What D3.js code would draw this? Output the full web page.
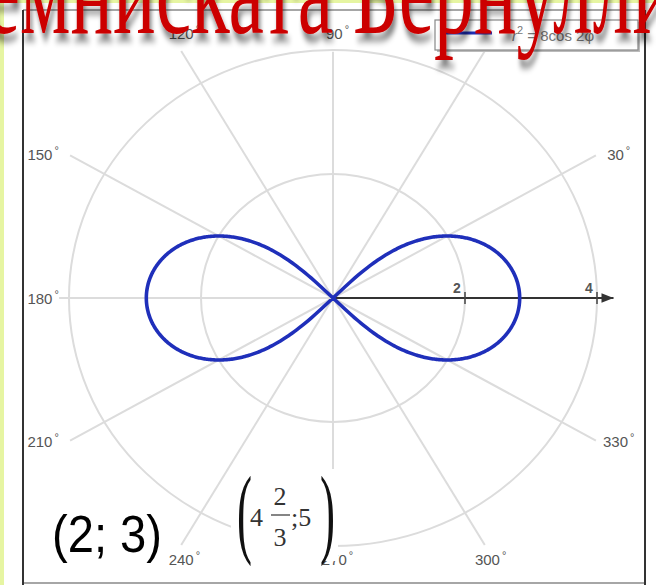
<!DOCTYPE html>
<html>
<head>
<meta charset="utf-8">
<script src="https://cdn.jsdelivr.net/npm/d3@7"></script>
<style>
  body { margin: 0; background: #fff; }
  svg { display: block; }
</style>
</head>
<body>
<svg id="chart" width="656" height="585"></svg>
<script>
// Lemniscate of Bernoulli in polar form: r^2 = coef * cos(2φ)
const coef = 8;
const ringValues = [2, 4];
const spokeAngles = [0, 30, 60, 90, 120, 150, 180, 210, 240, 270, 300, 330];
const angleLabelValues = [30, 60, 90, 120, 150, 180, 210, 240, 270, 300, 330];
const axisTickValues = [2, 4];
const axisTickLabels = ["2", "4"];
const axisEnd = 4.25;
const rightLobeAngles = d3.range(-45, 45.001, 0.25);
const leftLobeAngles = d3.range(135, 225.001, 0.25);

const svg = d3.select("#chart");
const W = 656, H = 585;

// page background with the slide edge
svg.append("rect").attr("width", W).attr("height", H).attr("fill", "#e6f5a2");
svg.append("rect").attr("x", 4).attr("y", 3).attr("width", W - 4).attr("height", H - 3).attr("fill", "#fff");

// frame
svg.append("line").attr("x1", 23).attr("x2", 645).attr("y1", 10).attr("y2", 10).attr("stroke", "#888").attr("stroke-width", 1.5);
svg.append("line").attr("x1", 23).attr("x2", 645).attr("y1", 583).attr("y2", 583).attr("stroke", "#888").attr("stroke-width", 1.5);
svg.append("line").attr("x1", 23).attr("x2", 23).attr("y1", 10).attr("y2", 585).attr("stroke", "#333").attr("stroke-width", 2);
svg.append("line").attr("x1", 645).attr("x2", 645).attr("y1", 10).attr("y2", 585).attr("stroke", "#333").attr("stroke-width", 2);

// scales (the plot is slightly wider than tall)
const x = d3.scaleLinear().domain([-4, 4]).range([69, 597]);
const y = d3.scaleLinear().domain([-4, 4]).range([546, 50]);
const rad = d => d * Math.PI / 180;

// angle label placement: side labels sit at a fixed horizontal distance,
// top/bottom labels sit on fixed rows
const sideX = 4.36, sideShift = -0.08, sideT = 4.62;
const rowT = 4.64, rowTop = 4.27, rowBottom = -4.22;
function labelPos(a) {
  const c = Math.cos(rad(a)), s = Math.sin(rad(a));
  if (Math.abs(c) > Math.abs(s)) {
    return [Math.sign(c) * sideX + sideShift, sideT * s];
  }
  return [rowT * c + 0.02, s > 0 ? rowTop : rowBottom];
}
const boxX = 4.45, boxTop = 4.27;
function spokeEnd(a) {
  const c = Math.abs(Math.cos(rad(a))), s = Math.abs(Math.sin(rad(a)));
  const tBox = Math.min(c > 1e-9 ? boxX / c : Infinity, s > 1e-9 ? boxTop / s : Infinity);
  return Math.min(4.6, tBox - 0.3);
}

const grid = svg.append("g").attr("stroke", "#dcdcdc").attr("stroke-width", 2).attr("fill", "none");

grid.selectAll("ellipse").data(ringValues).join("ellipse")
  .attr("cx", x(0)).attr("cy", y(0))
  .attr("rx", d => x(d) - x(0))
  .attr("ry", d => y(0) - y(d));

grid.selectAll("line").data(spokeAngles.filter(a => a !== 0)).join("line")
  .attr("x1", x(0)).attr("y1", y(0))
  .attr("x2", a => x(spokeEnd(a) * Math.cos(rad(a))))
  .attr("y2", a => y(spokeEnd(a) * Math.sin(rad(a))));

// angle labels: digits centred on the position, degree mark hanging to the right
const lab = svg.append("g")
  .attr("font-family", "Liberation Sans, Arial, sans-serif")
  .attr("fill", "#555");
lab.selectAll("g").data(angleLabelValues).join("g")
  .each(function (a) {
    const g = d3.select(this);
    const [lx, ly] = labelPos(a);
    const px = x(lx), py = y(ly);
    const num = g.append("text")
      .attr("x", px).attr("y", py + 5.5)
      .attr("text-anchor", "middle")
      .attr("font-size", 15)
      .text(a);
    const w = num.node().getComputedTextLength();
    g.append("text")
      .attr("x", px + w / 2 + 2).attr("y", py - 0.5)
      .attr("font-size", 11)
      .text("°");
  });

// polar axis along 0° with arrow
svg.append("defs").append("marker")
  .attr("id", "arrow").attr("viewBox", "0 0 10 10")
  .attr("refX", 10).attr("refY", 5)
  .attr("markerWidth", 8).attr("markerHeight", 6)
  .attr("markerUnits", "strokeWidth")
  .attr("orient", "auto")
  .append("path").attr("d", "M0,1 L10,5 L0,9 Z").attr("fill", "#333");

svg.append("line")
  .attr("x1", x(0)).attr("y1", y(0))
  .attr("x2", x(axisEnd)).attr("y2", y(0))
  .attr("stroke", "#333").attr("stroke-width", 2)
  .attr("marker-end", "url(#arrow)");

svg.selectAll(".tick").data(axisTickValues).join("line").attr("class", "tick")
  .attr("x1", d => x(d)).attr("x2", d => x(d))
  .attr("y1", y(0) - 6).attr("y2", y(0) + 6)
  .attr("stroke", "#444").attr("stroke-width", 1.5);

svg.selectAll(".ticklabel").data(axisTickValues).join("text").attr("class", "ticklabel")
  .attr("x", d => x(d) - 8).attr("y", y(0) - 5)
  .attr("text-anchor", "middle")
  .attr("font-family", "Liberation Sans, Arial, sans-serif")
  .attr("font-size", 14).attr("font-weight", "bold")
  .attr("fill", "#555")
  .text((d, i) => axisTickLabels[i]);

// the curve
const pts = rightLobeAngles.concat(leftLobeAngles).map(a => {
  const v = coef * Math.cos(2 * rad(a));
  const r = Math.sqrt(Math.max(0, v));
  return [r * Math.cos(rad(a)), r * Math.sin(rad(a))];
});
const line = d3.line().x(d => x(d[0])).y(d => y(d[1]));
svg.append("path")
  .attr("d", line(pts))
  .attr("fill", "none")
  .attr("stroke", "#1f2fba")
  .attr("stroke-width", 3.6)
  .attr("stroke-linejoin", "round");

// legend
const lg = svg.append("g");
lg.append("rect").attr("x", 437).attr("y", 22).attr("width", 203).attr("height", 30).attr("fill", "#bbb");
lg.append("rect").attr("x", 435).attr("y", 20).attr("width", 203).attr("height", 30).attr("fill", "#fff").attr("stroke", "#888").attr("stroke-width", 1.2);
lg.append("line").attr("x1", 440).attr("x2", 492).attr("y1", 33).attr("y2", 33).attr("stroke", "#1f2fba").attr("stroke-width", 3);
const lt = lg.append("text").attr("x", 512).attr("y", 41)
  .attr("font-family", "Liberation Sans, Arial, sans-serif")
  .attr("font-size", 15).attr("fill", "#777");
lt.append("tspan").attr("font-style", "italic").text("r");
lt.append("tspan").attr("dy", -7).attr("font-size", 11).text("2");
lt.append("tspan").attr("dy", 7).text(" = " + coef + "cos 2φ");

// coordinates written on the slide
svg.append("text").attr("x", 52).attr("y", 552)
  .attr("font-family", "Liberation Sans, Arial, sans-serif")
  .attr("font-size", 52)
  .attr("textLength", 110).attr("lengthAdjust", "spacingAndGlyphs")
  .attr("fill", "#000")
  .text("(2; 3)");

const fm = svg.append("g");
fm.append("rect").attr("x", 231).attr("y", 469).attr("width", 107).attr("height", 92).attr("fill", "#fff");
const serif = "Liberation Serif, Times New Roman, serif";
fm.append("text").attr("transform", "translate(237,545) scale(0.45,1)")
  .attr("font-family", serif).attr("font-size", 100).attr("fill", "#111").text("(");
fm.append("text").attr("transform", "translate(320,545) scale(0.45,1)")
  .attr("font-family", serif).attr("font-size", 100).attr("fill", "#111").text(")");
fm.append("text").attr("x", 250).attr("y", 526)
  .attr("font-family", serif).attr("font-size", 26).attr("fill", "#333").text("4");
fm.append("text").attr("x", 280).attr("y", 505).attr("text-anchor", "middle")
  .attr("font-family", serif).attr("font-size", 26).attr("fill", "#333").text("2");
fm.append("line").attr("x1", 271).attr("x2", 290).attr("y1", 515).attr("y2", 515).attr("stroke", "#333").attr("stroke-width", 1.2);
fm.append("text").attr("x", 280).attr("y", 546).attr("text-anchor", "middle")
  .attr("font-family", serif).attr("font-size", 26).attr("fill", "#333").text("3");
fm.append("text").attr("x", 291).attr("y", 526)
  .attr("font-family", serif).attr("font-size", 26).attr("fill", "#333").text(";5");

// title with soft shadow
const defs = svg.append("defs");
const f = defs.append("filter").attr("id", "shadow").attr("x", "-10%").attr("y", "-30%").attr("width", "130%").attr("height", "170%");
f.append("feGaussianBlur").attr("in", "SourceAlpha").attr("stdDeviation", 3.5).attr("result", "b");
f.append("feOffset").attr("in", "b").attr("dx", 4).attr("dy", 8).attr("result", "o");
f.append("feComponentTransfer").attr("in", "o").attr("result", "s")
  .append("feFuncA").attr("type", "linear").attr("slope", 0.5);
const mg = f.append("feMerge");
mg.append("feMergeNode").attr("in", "s");
mg.append("feMergeNode").attr("in", "SourceGraphic");

const title = svg.append("text")
  .attr("font-family", serif)
  .attr("font-size", 128)
  .attr("fill", "#cc0000")
  .attr("filter", "url(#shadow)")
  .attr("x", 0).attr("y", 0)
  .text("Лемниската Бернулли");
const tn = title.node();
const pM = tn.getStartPositionOfChar(2).x;
const pB = tn.getStartPositionOfChar(11).x;
const sx = (353 - 20) / (pB - pM);
title.attr("transform", `translate(${20 - pM * sx},33) scale(${sx},1)`);
</script>
</body>
</html>
